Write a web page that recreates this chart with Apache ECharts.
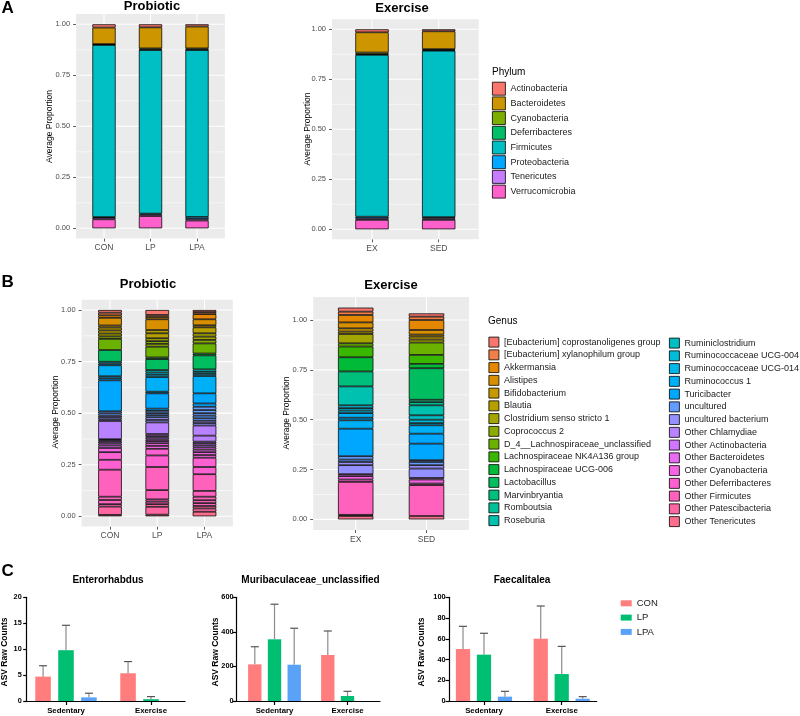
<!DOCTYPE html>
<html><head><meta charset="utf-8">
<script src="https://cdn.jsdelivr.net/npm/echarts@6/dist/echarts.min.js"></script>
<style>html,body{margin:0;padding:0;background:#fff}#c{width:800px;height:716px}</style>
</head><body><div id="c"></div>
<script>
// ---------------- DATA ----------------
const probioticGroups = ['CON', 'LP', 'LPA'];
const exerciseGroups = ['EX', 'SED'];

const phyla = ['Actinobacteria', 'Bacteroidetes', 'Cyanobacteria', 'Deferribacteres',
  'Firmicutes', 'Proteobacteria', 'Tenericutes', 'Verrucomicrobia'];
const phylumCON = [0.016, 0.081, 0.002, 0.002, 0.844, 0.003, 0.008, 0.044];
const phylumLP  = [0.015, 0.103, 0.006, 0.002, 0.802, 0.004, 0.008, 0.060];
const phylumLPA = [0.011, 0.107, 0.006, 0.002, 0.818, 0.010, 0.008, 0.038];
const phylumEX  = [0.015, 0.101, 0.008, 0.004, 0.809, 0.008, 0.008, 0.047];
const phylumSED = [0.010, 0.089, 0.005, 0.003, 0.832, 0.006, 0.008, 0.047];

const genera = ['[Eubacterium] coprostanoligenes group', '[Eubacterium] xylanophilum group',
  'Akkermansia', 'Alistipes', 'Bifidobacterium', 'Blautia', 'Clostridium senso stricto 1',
  'Coprococcus 2', 'D_4__Lachnospiraceae_unclassified', 'Lachnospiraceae NK4A136 group',
  'Lachnospiraceae UCG-006', 'Lactobacillus', 'Marvinbryantia', 'Romboutsia', 'Roseburia',
  'Ruminiclostridium', 'Ruminococcaceae UCG-004', 'Ruminococcaceae UCG-014', 'Ruminococcus 1',
  'Turicibacter', 'uncultured', 'uncultured bacterium', 'Other Chlamydiae',
  'Other Actinobacteria', 'Other Bacteroidetes', 'Other Cyanobacteria', 'Other Deferribacteres',
  'Other Firmicutes', 'Other Patescibacteria', 'Other Tenericutes'];
// stacked rows bottom -> top : [genus index, average proportion]
const genusCON = [[29,0.007],[28,0.040],[27,0.012],[27,0.020],[27,0.016],[27,0.131],[26,0.048],[26,0.037],[25,0.020],[24,0.012],[24,0.010],[23,0.008],[23,0.008],[22,0.005],[22,0.088],[21,0.008],[21,0.010],[21,0.008],[20,0.011],[20,0.010],[19,0.150],[19,0.010],[18,0.010],[18,0.053],[17,0.008],[16,0.009],[11,0.057],[8,0.054],[7,0.012],[6,0.014],[5,0.015],[5,0.014],[4,0.010],[3,0.037],[2,0.012],[1,0.013],[0,0.013]];
const genusLP = [[29,0.008],[28,0.038],[28,0.013],[27,0.012],[27,0.011],[27,0.045],[27,0.112],[26,0.056],[26,0.032],[25,0.014],[25,0.013],[24,0.010],[24,0.008],[23,0.009],[23,0.008],[23,0.010],[22,0.056],[21,0.012],[21,0.013],[20,0.010],[20,0.010],[20,0.011],[19,0.011],[19,0.074],[18,0.008],[18,0.071],[17,0.011],[16,0.011],[15,0.012],[11,0.053],[10,0.008],[8,0.052],[7,0.014],[7,0.013],[6,0.014],[5,0.024],[5,0.016],[3,0.052],[2,0.011],[1,0.010],[0,0.024]];
const genusLPA = [[29,0.022],[28,0.016],[28,0.012],[27,0.014],[27,0.014],[27,0.017],[27,0.028],[27,0.081],[26,0.035],[26,0.045],[25,0.013],[25,0.014],[24,0.012],[24,0.011],[23,0.010],[23,0.010],[22,0.008],[22,0.029],[22,0.049],[21,0.012],[21,0.011],[20,0.012],[20,0.013],[20,0.012],[20,0.015],[20,0.016],[19,0.016],[19,0.049],[18,0.084],[17,0.010],[16,0.010],[15,0.012],[11,0.068],[10,0.009],[8,0.049],[7,0.017],[6,0.016],[6,0.016],[5,0.029],[4,0.010],[3,0.029],[2,0.025],[1,0.010],[0,0.010]];
const genusEX = [[29,0.017],[28,0.006],[27,0.165],[26,0.012],[25,0.017],[24,0.010],[21,0.045],[21,0.016],[20,0.012],[20,0.017],[19,0.138],[18,0.042],[18,0.013],[18,0.023],[17,0.013],[16,0.012],[16,0.014],[14,0.095],[12,0.075],[10,0.071],[9,0.054],[8,0.016],[6,0.047],[5,0.012],[4,0.016],[3,0.030],[2,0.037],[1,0.017],[0,0.020]];
const genusSED = [[29,0.017],[27,0.155],[26,0.008],[25,0.020],[24,0.008],[21,0.047],[21,0.017],[20,0.016],[20,0.009],[19,0.083],[19,0.050],[18,0.042],[17,0.011],[16,0.017],[15,0.022],[14,0.050],[13,0.016],[12,0.012],[11,0.158],[10,0.022],[9,0.045],[8,0.062],[6,0.015],[5,0.015],[4,0.010],[3,0.023],[2,0.050],[1,0.017],[0,0.016]];

const proportionTicks = [0, 0.25, 0.5, 0.75, 1];

const treatments = ['CON', 'LP', 'LPA'];
const conditions = ['Sedentary', 'Exercise'];
// rows: CON, LP, LPA ; cols: Sedentary, Exercise
const enteroMean  = [[4.7, 5.35], [9.8, 0.35], [0.7, 0]];
const enteroErr   = [[2.1, 2.25], [4.8, 0.5], [0.8, 0]];
const muribMean   = [[212, 266], [357, 29], [210, 0]];
const muribErr    = [[102, 139], [203, 27], [211, 0]];
const faecalMean  = [[50.1, 60.1], [44.7, 26], [4.2, 2.2]];
const faecalErr   = [[21.9, 31.5], [20.6, 26.7], [5.1, 2.0]];
const enteroTicks = [0, 5, 10, 15, 20];
const muribTicks  = [0, 200, 400, 600];
const faecalTicks = [0, 20, 40, 60, 80, 100];

// ---------------- STYLE HELPERS ----------------
const FONT = "'Liberation Sans', Arial, Helvetica, sans-serif";
function hcl(h, c, l) {
  const hr = h * Math.PI / 180;
  const U = c * Math.cos(hr), V = c * Math.sin(hr);
  const Xn = 95.047, Yn = 100, Zn = 108.883;
  const Y = l > 8 ? Yn * Math.pow((l + 16) / 116, 3) : Yn * l / 903.3;
  const den = Xn + 15 * Yn + 3 * Zn;
  const un = 4 * Xn / den, vn = 9 * Yn / den;
  const u = U / (13 * l) + un, v = V / (13 * l) + vn;
  const X = 9 * Y * u / (4 * v);
  const Z = Y * (12 - 3 * u - 20 * v) / (4 * v);
  const x = X / 100, y = Y / 100, z = Z / 100;
  const lin = [
    3.2404542 * x - 1.5371385 * y - 0.4985314 * z,
    -0.9692660 * x + 1.8760108 * y + 0.0415560 * z,
    0.0556434 * x - 0.2040259 * y + 1.0572252 * z];
  return '#' + lin.map(t => {
    let g = t > 0.0031308 ? 1.055 * Math.pow(t, 1 / 2.4) - 0.055 : 12.92 * t;
    g = Math.max(0, Math.min(1, g));
    return Math.round(g * 255).toString(16).padStart(2, '0');
  }).join('');
}
function huePal(n) { const o = []; for (let i = 0; i < n; i++) o.push(hcl(15 + 360 * i / n, 100, 65)); return o; }
const phylumColors = huePal(phyla.length);
const genusColors = huePal(genera.length);
const treatColors = ['#FF7D7D', '#00BF73', '#5AA2F7'];
const BORDER = { borderColor: '#000', borderWidth: 0.75 };

// ---------------- BUILD ----------------
const grids = [], xAxes = [], yAxes = [], series = [];

function addPropPanel(cfg) {
  const n = cfg.groups.length;
  const yMax = Math.max(...cfg.totals);
  const yMin = -0.05 * yMax, yTop = 1.05 * yMax;
  const top = cfg.zeroY - yTop * cfg.unitPx, height = (yTop - yMin) * cfg.unitPx;
  const panelLeft = cfg.c1 - 0.6 * cfg.u;
  const gi = grids.length;
  grids.push({ left: panelLeft, width: (n + 0.2) * cfg.u, top: top, height: height,
    show: true, backgroundColor: '#EBEBEB', borderWidth: 0 });
  const xs = cfg.groups.map((g, i) => i + 1);
  xAxes.push({
    type: 'value', gridIndex: gi, min: 0.4, max: n + 0.6,
    axisLine: { show: false, onZero: false }, splitLine: { show: false },
    axisTick: { show: true, customValues: xs, length: 3, lineStyle: { color: '#333', width: 0.8 } },
    axisLabel: { show: true, customValues: xs, margin: 5, color: '#4D4D4D', fontSize: 8.5, fontFamily: FONT,
      formatter: v => cfg.groups[Math.round(v) - 1] || '' }
  });
  yAxes.push({
    type: 'value', gridIndex: gi, min: yMin, max: yTop,
    axisLine: { show: false, onZero: false }, splitLine: { show: false },
    axisTick: { show: true, customValues: proportionTicks, length: 3, lineStyle: { color: '#333', width: 0.8 } },
    axisLabel: { show: true, customValues: proportionTicks, margin: 6, color: '#4D4D4D', fontSize: 7.5, fontFamily: FONT,
      formatter: v => v.toFixed(2) }
  });
  const gl = [];
  proportionTicks.forEach(t => gl.push([1, t, 0]));
  for (let i = 0; i < proportionTicks.length - 1; i++) gl.push([1, (proportionTicks[i] + proportionTicks[i + 1]) / 2, 1]);
  xs.forEach(x => gl.push([x, 0, 2]));
  series.push({
    type: 'custom', xAxisIndex: gi, yAxisIndex: gi, z: 1, silent: true, data: gl,
    renderItem: (params, api) => {
      const cs = params.coordSys, k = api.value(2);
      if (k === 2) {
        const x = api.coord([api.value(0), 0])[0];
        return { type: 'line', shape: { x1: x, y1: cs.y, x2: x, y2: cs.y + cs.height }, style: { stroke: '#fff', lineWidth: 1.1 } };
      }
      const y = api.coord([1, api.value(1)])[1];
      return { type: 'line', shape: { x1: cs.x, y1: y, x2: cs.x + cs.width, y2: y },
        style: { stroke: '#fff', lineWidth: k === 0 ? 1.1 : 0.55 } };
    }
  });
  const di = grids.length;
  grids.push({ left: panelLeft + 0.1 * cfg.u, width: n * cfg.u, top: top, height: height, show: false });
  xAxes.push({ type: 'category', gridIndex: di, data: cfg.groups, boundaryGap: true, show: false });
  yAxes.push({ type: 'value', gridIndex: di, min: yMin, max: yTop, show: false, splitLine: { show: false } });
  return di;
}

// Panel A
function addPhylumPanel(groups, rows, geom) {
  const totals = rows.map(r => r.reduce((a, b) => a + b, 0));
  const di = addPropPanel(Object.assign({ groups, totals }, geom));
  for (let p = phyla.length - 1; p >= 0; p--) {
    series.push({
      type: 'bar', name: phyla[p], xAxisIndex: di, yAxisIndex: di, stack: 'A' + di, z: 2,
      barWidth: '50%', itemStyle: Object.assign({ color: phylumColors[p] }, BORDER),
      data: rows.map(r => r[p])
    });
  }
}
addPhylumPanel(probioticGroups, [phylumCON, phylumLP, phylumLPA], { c1: 104, u: 46.5, zeroY: 228.3, unitPx: 204 });
addPhylumPanel(exerciseGroups, [phylumEX, phylumSED], { c1: 372, u: 66.7, zeroY: 229.3, unitPx: 200 });

// Panel B
function addGenusPanel(groups, bars, geom, withLegendSeries) {
  const totals = bars.map(b => b.reduce((a, s) => a + s[1], 0));
  const di = addPropPanel(Object.assign({ groups, totals }, geom));
  const nLayers = Math.max(...bars.map(b => b.length));
  for (let k = 0; k < nLayers; k++) {
    series.push({
      type: 'bar', name: 'layer' + di + '_' + k, xAxisIndex: di, yAxisIndex: di, stack: 'B' + di, z: 2,
      barWidth: '50%', itemStyle: Object.assign({}, BORDER),
      data: bars.map(b => b[k]
        ? { value: b[k][1], itemStyle: { color: genusColors[b[k][0]] } }
        : { value: 0, itemStyle: { color: 'transparent', borderWidth: 0 } })
    });
  }
  if (withLegendSeries) {
    genera.forEach((g, i) => series.push({
      type: 'bar', name: g, xAxisIndex: di, yAxisIndex: di, stack: 'B' + di, barWidth: '50%',
      itemStyle: Object.assign({ color: genusColors[i] }, BORDER), data: []
    }));
  }
}
addGenusPanel(probioticGroups, [genusCON, genusLP, genusLPA], { c1: 110, u: 47.25, zeroY: 516.3, unitPx: 206.3 }, false);
addGenusPanel(exerciseGroups, [genusEX, genusSED], { c1: 355.7, u: 70.8, zeroY: 519.4, unitPx: 199.4 }, true);

// Panel C
const BAR_FRAC = 0.183, BAR_GAP = 0.475;
function addCountPanel(means, errs, ticks, geom) {
  const gi = grids.length;
  grids.push({ left: geom.left, top: 597.3, width: geom.width, height: 103.7 });
  const xs = conditions.map((c, i) => i + 1);
  const axisStyle = { color: '#000', width: 1.2 };
  xAxes.push({
    type: 'value', gridIndex: gi, min: geom.min, max: geom.max,
    axisLine: { show: true, onZero: false, lineStyle: axisStyle }, splitLine: { show: false },
    axisTick: { show: true, customValues: xs, length: 4, lineStyle: axisStyle },
    axisLabel: { show: true, customValues: xs, margin: 6, color: '#000', fontWeight: 'bold', fontSize: 7.8,
      fontFamily: FONT, formatter: v => conditions[Math.round(v) - 1] || '' }
  });
  yAxes.push({
    type: 'value', gridIndex: gi, min: ticks[0], max: ticks[ticks.length - 1], interval: ticks[1] - ticks[0],
    axisLine: { show: true, onZero: false, lineStyle: axisStyle }, splitLine: { show: false },
    axisTick: { show: true, length: 3.5, lineStyle: axisStyle },
    axisLabel: { margin: geom.labelMargin, color: '#000', fontWeight: 'bold', fontSize: 7.3, fontFamily: FONT }
  });
  treatments.forEach((t, s) => series.push({
    type: 'bar', name: t, xAxisIndex: gi, yAxisIndex: gi, z: 2,
    barWidth: (BAR_FRAC * 100) + '%', barGap: (BAR_GAP * 100) + '%',
    itemStyle: { color: treatColors[s] },
    data: means[s].map((v, i) => [i + 1, v])
  }));
  const ed = [];
  treatments.forEach((t, s) => means[s].forEach((v, i) => ed.push([i + 1, v, errs[s][i], s])));
  series.push({
    type: 'custom', xAxisIndex: gi, yAxisIndex: gi, z: 3, silent: true, data: ed,
    renderItem: (params, api) => {
      const err = api.value(2);
      if (!(err > 0)) return null;
      const band = api.size([1, 0])[0];
      const step = band * BAR_FRAC * (1 + BAR_GAP);
      const cx = api.coord([api.value(0), 0])[0] + (api.value(3) - 1) * step;
      const y0 = api.coord([api.value(0), api.value(1)])[1];
      const y1 = api.coord([api.value(0), api.value(1) + err])[1];
      return { type: 'group', children: [
        { type: 'line', shape: { x1: cx, y1: y0, x2: cx, y2: y1 }, style: { stroke: '#8c8c8c', lineWidth: 1.2 } },
        { type: 'line', shape: { x1: cx - 4, y1: y1, x2: cx + 4, y2: y1 }, style: { stroke: '#555', lineWidth: 1.2 } }
      ] };
    }
  });
}
addCountPanel(enteroMean, enteroErr, enteroTicks, { left: 26.7, width: 158.3, min: 0.5376, max: 2.4, labelMargin: 5 });
addCountPanel(muribMean, muribErr, muribTicks, { left: 236, width: 144, min: 0.4726, max: 2.445, labelMargin: 2.5 });
addCountPanel(faecalMean, faecalErr, faecalTicks, { left: 449, width: 147.7, min: 0.55, max: 2.45, labelMargin: 3.5 });

// ---------------- TEXT ----------------
function txt(text, x, y, size, bold, align, rot) {
  return {
    type: 'text', x: x, y: y, rotation: rot ? Math.PI / 2 : 0, silent: true,
    style: { text: text, font: (bold ? 'bold ' : '') + size + 'px ' + FONT, fill: '#000',
      textAlign: align || 'center', align: align || 'center', textVerticalAlign: 'middle', verticalAlign: 'middle' }
  };
}
const graphic = [
  txt('A', 1.5, 8, 17, true, 'left'),
  txt('Probiotic', 152, 6.5, 13, true),
  txt('Exercise', 402, 8, 13, true),
  txt('Phylum', 492, 72.5, 10, false, 'left'),
  txt('Average Proportion', 50, 126.5, 8.5, false, 'center', true),
  txt('Average Proportion', 308, 129, 8.5, false, 'center', true),
  txt('B', 1.5, 282, 17, true, 'left'),
  txt('Probiotic', 148, 284.5, 13, true),
  txt('Exercise', 391, 285, 13, true),
  txt('Genus', 488, 321, 10, false, 'left'),
  txt('Average Proportion', 56, 412, 8.5, false, 'center', true),
  txt('Average Proportion', 287, 413, 8.5, false, 'center', true),
  txt('C', 1.5, 571.5, 17, true, 'left'),
  txt('Enterorhabdus', 108, 580, 10, true),
  txt('Muribaculaceae_unclassified', 310.5, 580, 10, true),
  txt('Faecalitalea', 522, 580, 10, true),
  txt('ASV Raw Counts', 5, 652, 8.5, true, 'center', true),
  txt('ASV Raw Counts', 215.5, 652, 8.5, true, 'center', true),
  txt('ASV Raw Counts', 421.5, 652, 8.5, true, 'center', true)
];

const legendBase = { orient: 'vertical', icon: 'rect', selectedMode: false, padding: 0 };
const legend = [
  Object.assign({}, legendBase, { data: phyla, left: 492, top: 81.8, itemWidth: 13, itemHeight: 13, itemGap: 0.9,
    itemStyle: { borderColor: '#000', borderWidth: 0.8 },
    textStyle: { fontSize: 9, lineHeight: 13, color: '#1a1a1a', fontFamily: FONT } }),
  Object.assign({}, legendBase, { data: genera.slice(0, 15), left: 488.5, top: 336.7, itemWidth: 10, itemHeight: 10, itemGap: 1.95,
    itemStyle: { borderColor: '#000', borderWidth: 0.8 },
    textStyle: { fontSize: 9, lineHeight: 10, color: '#1a1a1a', fontFamily: FONT } }),
  Object.assign({}, legendBase, { data: genera.slice(15), left: 669, top: 337.7, itemWidth: 10, itemHeight: 10, itemGap: 1.95,
    itemStyle: { borderColor: '#000', borderWidth: 0.8 },
    textStyle: { fontSize: 9, lineHeight: 10, color: '#1a1a1a', fontFamily: FONT } }),
  Object.assign({}, legendBase, { data: treatments, left: 620.7, top: 597.3, itemWidth: 11, itemHeight: 6, itemGap: 2.3,
    textStyle: { fontSize: 9.5, lineHeight: 12, color: '#1a1a1a', fontFamily: FONT } })
];

const chart = echarts.init(document.getElementById('c'), null, { renderer: 'canvas' });
chart.setOption({
  animation: false, backgroundColor: '#fff',
  grid: grids, xAxis: xAxes, yAxis: yAxes, series: series, legend: legend, graphic: graphic
});
</script></body></html>
